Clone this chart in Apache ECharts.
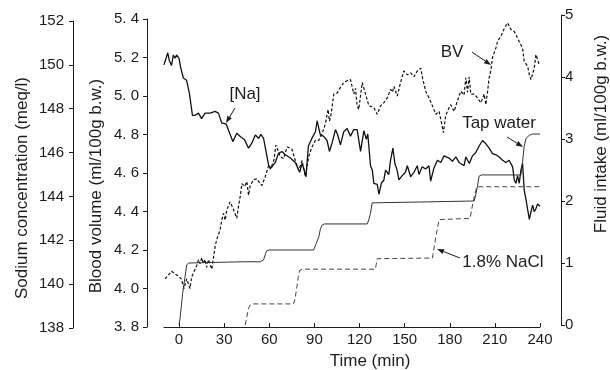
<!DOCTYPE html>
<html>
<head>
<meta charset="utf-8">
<script src="https://cdn.jsdelivr.net/npm/echarts@6/dist/echarts.min.js"></script>
<style>
  html, body { margin: 0; padding: 0; background: #fff; }
  #chart { width: 610px; height: 370px; }
</style>
</head>
<body>
<div id="chart"></div>
<script>
// time axis (min)
const timeTicks = [0, 30, 60, 90, 120, 150, 180, 210, 240];

// plasma sodium [Na] (meq/l)
const naTime = [-10, -9, -7.5, -6.5, -5, -3.8, -2.7, -1.6, 0, 1, 2.9, 5, 6.9, 8.9, 10.7, 12.9, 15, 17.3, 20.7, 24,
  26.2, 28.4, 31.3, 33, 35.8, 38.4, 40.7, 43.6, 46.2, 48.4, 50.7, 52.9, 54.4, 56.2, 58, 59.6, 61.3, 64, 66, 68.4,
  70.7, 74, 77.3, 78.4, 80.2, 81.8, 83, 84.4, 86, 88, 90.7, 91.8, 92.9, 94, 96, 98.4, 100, 101.8, 104, 105.5,
  107.3, 109.5, 111.8, 114, 116.2, 118.4, 120.7, 122.9, 124.5, 125.5, 126.5, 127.3, 128.5, 129.5, 131.8, 132.9, 134.5, 136.2, 137.3, 139.5,
  140.5, 142.2, 143.5, 145, 146.2, 148.4, 150.5, 151.8, 154, 156.2, 158.4, 159.5, 161.7, 163.9, 166.2, 167.3, 169.5, 171.8, 174, 176.2,
  177.3, 179.5, 181.8, 184, 186.2, 189.5, 190.7, 193, 195.1, 197.3, 199.5, 201.8, 204, 206.2, 208.4, 210.7, 212.9, 215.1, 217.3, 219.5,
  221.8, 222.9, 224, 225.1, 226.2, 227.3, 228.4, 229.5, 230.7, 231.8, 232.9, 234, 235.1, 236.2, 237.3, 238.4, 240];
const naValue = [150.0, 150.0, 150.55, 150.2, 149.97, 150.45, 150.3, 150.45, 150.3, 149.9, 149.4, 149.3, 148.7, 147.7, 147.7, 147.8, 147.55, 147.8, 147.8, 147.88,
  147.8, 147.35, 147.3, 147.0, 146.5, 146.88, 146.73, 146.58, 146.2, 146.43, 146.8, 146.65, 146.83, 146.65, 146.0, 145.4, 145.3, 145.55, 145.95, 146.05,
  145.9, 145.75, 145.55, 145.55, 145.1, 145.5, 145.25, 144.9, 146.3, 146.6, 146.95, 147.45, 147.4, 146.8, 146.75, 146.55, 146.05, 146.45, 147.05, 146.8,
  146.35, 146.95, 147.1, 146.75, 147.05, 147.05, 146.05, 147.0, 146.6, 146.85, 146.05, 145.4, 145.2, 144.6, 144.55, 144.1, 144.6, 144.75, 145.2, 145.0,
  145.6, 146.2, 145.5, 145.2, 144.75, 144.95, 145.1, 145.4, 144.9, 145.1, 145.4, 145.0, 145.35, 145.25, 145.4, 144.7, 145.3, 145.65, 145.55, 145.85,
  145.8, 145.75, 145.6, 145.8, 145.55, 145.4, 145.8, 145.5, 145.85, 146.0, 146.3, 146.55, 146.4, 146.2, 145.95, 145.9, 145.8, 145.65, 145.55, 145.65,
  145.35, 144.75, 144.6, 144.95, 144.6, 145.2, 145.5, 144.3, 143.85, 143.4, 142.95, 143.3, 143.6, 143.3, 143.45, 143.65, 143.55];

// blood volume BV (ml/100g b.w.)
const bvTime = [-9.3, -7.1, -4.9, -2.5, -0.4, 1.5, 3.3, 5.1, 7.3, 8.4, 9.5, 11.8, 12.9, 14, 15.1, 16.2, 17.3, 18.4, 19.5, 20.7,
  21.8, 24, 25.1, 26.2, 27.3, 28.4, 29.5, 30.7, 31.8, 34, 36.2, 38.4, 39.5, 40.7, 41.8, 43.6, 45.1, 46.2, 47.3, 49.5,
  51.8, 53, 55.1, 57.3, 59.6, 60.7, 63, 64.4, 65.5, 67.3, 69.5, 71.8, 72.9, 75, 77.3, 79.6, 81.8, 84, 86.2, 88.4,
  90.7, 92.9, 95.1, 97.3, 99.1, 100, 101, 102.9, 105.1, 107.3, 109.5, 111.8, 114, 116.2, 117.3, 118.4, 119.5, 121.8, 124, 126.2,
  127.3, 129.5, 131.8, 134, 136.2, 138.4, 140.7, 141.8, 142.9, 145.1, 147.3, 149.5, 151.8, 154, 156.2, 158.4, 160.7, 162, 164, 166.2,
  168.4, 170.7, 172.9, 174, 175.8, 177.3, 179.6, 180.7, 182.9, 185.1, 187.3, 189.5, 190.7, 191.8, 192.9, 194, 196.2, 198.4, 200.7, 202.9,
  204, 205.1, 206.2, 207.3, 208.4, 210.7, 211.8, 214, 216.2, 218.4, 220.7, 222.9, 225.1, 227.3, 228.4, 229.5, 231.8, 232.9, 234, 236.2,
  237.3, 238.4, 239.5];
const bvValue = [4.05, 4.07, 4.09, 4.075, 4.065, 4.05, 4.0, 4.05, 4.0, 4.06, 4.065, 4.12, 4.15, 4.13, 4.16, 4.13, 4.15, 4.11, 4.15, 4.16,
  4.10, 4.22, 4.255, 4.245, 4.305, 4.355, 4.39, 4.355, 4.41, 4.45, 4.41, 4.365, 4.425, 4.48, 4.545, 4.53, 4.555, 4.485, 4.535, 4.565,
  4.57, 4.555, 4.535, 4.58, 4.64, 4.62, 4.665, 4.745, 4.74, 4.685, 4.675, 4.735, 4.745, 4.725, 4.665, 4.615, 4.665, 4.58, 4.685, 4.735,
  4.77, 4.77, 4.805, 4.855, 4.93, 4.87, 4.9, 5.01, 5.015, 5.045, 5.07, 5.08, 5.085, 5.01, 5.04, 4.95, 4.93, 5.07, 5.01, 4.95,
  4.96, 4.94, 4.905, 4.95, 4.965, 4.99, 5.035, 5.02, 5.05, 5.0, 5.07, 5.13, 5.11, 5.12, 5.10, 5.13, 5.145, 5.09, 5.025, 4.99,
  4.95, 4.905, 4.92, 4.88, 4.81, 4.90, 4.94, 4.955, 4.92, 4.975, 5.025, 5.005, 5.095, 5.02, 5.10, 5.01, 5.01, 4.99, 4.965, 5.01,
  4.955, 5.02, 5.095, 5.13, 5.2, 5.25, 5.285, 5.31, 5.35, 5.38, 5.345, 5.335, 5.30, 5.265, 5.25, 5.18, 5.155, 5.11, 5.085, 5.145,
  5.215, 5.19, 5.16];

// cumulative fluid intake (ml/100g b.w.)
const tapTime = [0, 0.7, 2.4, 4, 5.1, 6.5, 43, 54, 56.2, 57.5, 58.4, 60, 89.5, 91, 92.9, 94, 95.1, 96.5, 125.1, 126.2,
  127.3, 128.4, 129.5, 196.2, 197.3, 198.4, 199.5, 201, 227.3, 228.4, 229.5, 230.7, 232.9, 235, 240];
const tapValue = [0, 0.11, 0.51, 0.78, 0.97, 1.0, 1.02, 1.02, 1.05, 1.15, 1.2, 1.21, 1.21, 1.3, 1.42, 1.55, 1.61, 1.63, 1.63, 1.7,
  1.8, 1.97, 2.0, 2.0, 2.1, 2.23, 2.4, 2.42, 2.42, 2.63, 2.88, 3.01, 3.06, 3.08, 3.08];

const naclTime = [44, 45.1, 46.2, 47.3, 49, 76.2, 77.3, 78.4, 79.3, 80.2, 82, 130.5, 131.8, 133, 168.5, 170.7, 172.9, 174, 193.5, 195.8,
  198, 240];
const naclValue = [0, 0.13, 0.27, 0.32, 0.34, 0.34, 0.45, 0.62, 0.78, 0.88, 0.9, 0.9, 1.07, 1.08, 1.08, 1.42, 1.70, 1.72, 1.72, 2.02,
  2.23, 2.23];

const pairs = (ts, vs) => ts.map((t, i) => [t, vs[i]]);

const INK = '#1c1c1c';
const FONT = '"Liberation Sans", Arial, sans-serif';
const tickFont = { fontSize: 15, color: INK, fontFamily: FONT };

// arrow for the callouts: a line plus a small head at (x2, y2)
function arrow(x1, y1, x2, y2) {
  const a = Math.atan2(y2 - y1, x2 - x1);
  const L = 7, W = 2.6;
  const bx = x2 - L * Math.cos(a), by = y2 - L * Math.sin(a);
  return [
    { type: 'line', shape: { x1: x1, y1: y1, x2: bx, y2: by }, style: { stroke: INK, lineWidth: 1 } },
    { type: 'polygon', shape: { points: [[x2, y2],
        [bx + W * Math.sin(a), by - W * Math.cos(a)],
        [bx - W * Math.sin(a), by + W * Math.cos(a)]] }, style: { fill: INK } }
  ];
}

function label(text, x, y, rot) {
  return {
    type: 'text', x: x, y: y, rotation: rot || 0,
    style: { text: text, fontSize: 17, fontFamily: FONT, fill: INK, align: 'center', verticalAlign: 'middle' }
  };
}

const chart = echarts.init(document.getElementById('chart'));

const hiddenX = (g) => ({ gridIndex: g, type: 'value', min: -10, max: 240, show: false });
const yLine = { show: true, onZero: false, lineStyle: { color: INK, width: 1 } };
const yTick = { show: true, length: 4, lineStyle: { color: INK } };

const option = {
  animation: false,
  backgroundColor: '#fff',
  grid: [
    { left: 164, right: 70, top: 19, bottom: 43 }, // BV + time
    { left: 164, right: 70, top: 21, bottom: 42 }, // sodium
    { left: 164, right: 70, top: 15, bottom: 45 }  // fluid intake
  ],
  xAxis: [
    {
      gridIndex: 0, type: 'value', min: -10, max: 240,
      axisLine: { onZero: false, lineStyle: { color: INK, width: 1 } },
      axisTick: { inside: true, length: 4, customValues: timeTicks, lineStyle: { color: INK } },
      axisLabel: Object.assign({ customValues: timeTicks, margin: 5 }, tickFont),
      splitLine: { show: false }
    },
    hiddenX(1),
    hiddenX(2)
  ],
  yAxis: [
    {
      gridIndex: 0, type: 'value', position: 'left', offset: 17,
      min: 3.8, max: 5.4, interval: 0.2,
      axisLine: yLine, axisTick: yTick,
      axisLabel: Object.assign({ margin: 8, formatter: v => v.toFixed(1).replace('.', '. ') }, tickFont),
      splitLine: { show: false }
    },
    {
      gridIndex: 1, type: 'value', position: 'left', offset: 91,
      min: 138, max: 152, interval: 2,
      axisLine: yLine, axisTick: yTick,
      axisLabel: Object.assign({ margin: 9 }, tickFont),
      splitLine: { show: false }
    },
    {
      gridIndex: 2, type: 'value', position: 'right', offset: 21,
      min: 0, max: 5, interval: 1,
      axisLine: yLine, axisTick: yTick,
      axisLabel: Object.assign({ margin: 4 }, tickFont),
      splitLine: { show: false }
    }
  ],
  series: [
    {
      name: 'BV', type: 'line', xAxisIndex: 0, yAxisIndex: 0,
      data: pairs(bvTime, bvValue), showSymbol: false,
      lineStyle: { color: '#111', width: 1.2, type: [3, 2] }
    },
    {
      name: '[Na]', type: 'line', xAxisIndex: 1, yAxisIndex: 1,
      data: pairs(naTime, naValue), showSymbol: false,
      lineStyle: { color: '#111', width: 1.3 }
    },
    {
      name: 'Tap water', type: 'line', xAxisIndex: 2, yAxisIndex: 2,
      data: pairs(tapTime, tapValue), showSymbol: false,
      lineStyle: { color: '#333', width: 1 }
    },
    {
      name: '1.8% NaCl', type: 'line', xAxisIndex: 2, yAxisIndex: 2,
      data: pairs(naclTime, naclValue), showSymbol: false,
      lineStyle: { color: '#444', width: 1, type: [5, 3] }
    }
  ],
  graphic: [
    label('Sodium concentration (meq/l)', 22, 188, Math.PI / 2),
    label('Blood volume (ml/100g b.w.)', 96, 186, Math.PI / 2),
    label('Fluid intake (ml/100g b.w.)', 601, 134, Math.PI / 2),
    label('Time (min)', 370, 361),
    label('[Na]', 245, 94),
    label('BV', 452, 52),
    label('Tap water', 499, 123),
    label('1.8% NaCl', 503, 262),
    ...arrow(235, 108, 226, 123),
    ...arrow(472, 52, 491, 65),
    ...arrow(507, 137, 523, 147),
    ...arrow(460, 258, 437, 249)
  ]
};

chart.setOption(option);
</script>
</body>
</html>
